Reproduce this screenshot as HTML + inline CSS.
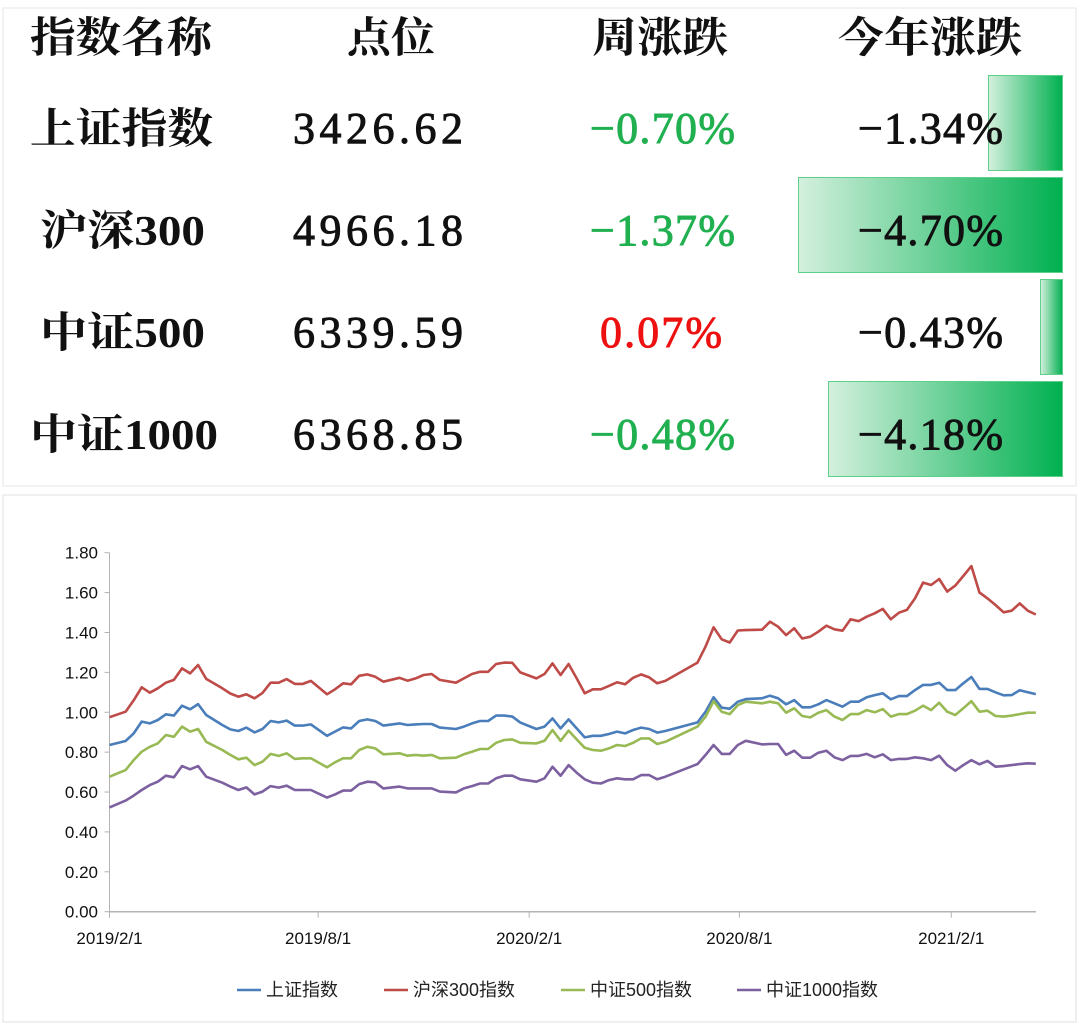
<!DOCTYPE html>
<html><head><meta charset="utf-8"><style>
html,body{margin:0;padding:0;background:#fff;}
body{width:1080px;height:1029px;position:relative;overflow:hidden;}
svg{position:absolute;left:0;top:0;}
.h{font-family:"Liberation Serif","Noto Serif CJK SC",serif;font-size:42px;font-weight:bold;fill:#111;}
.n{font-family:"Liberation Serif","Noto Serif CJK SC",serif;font-size:44px;font-weight:normal;fill:#111;stroke:#111;stroke-width:0.9px;}
.ax{font-family:"Liberation Sans","Noto Sans CJK SC",sans-serif;font-size:17px;fill:#111;}
.lg{font-family:"Liberation Sans","Noto Sans CJK SC",sans-serif;font-size:18px;fill:#222;}
</style></head><body>
<svg width="1080" height="1029">
<defs><linearGradient id="gbar" x1="0" x2="1" y1="0" y2="0"><stop offset="0" stop-color="#d4f0de"/><stop offset="1" stop-color="#00b050"/></linearGradient></defs>
<rect x="3" y="8" width="1073" height="478" fill="#fff" stroke="#e6e6e6"/>
<rect x="988.5" y="75.5" width="74" height="95" fill="url(#gbar)" stroke="#5fd08a"/>
<rect x="798.5" y="177.5" width="264" height="95" fill="url(#gbar)" stroke="#5fd08a"/>
<rect x="1040.5" y="279.5" width="22" height="95" fill="url(#gbar)" stroke="#5fd08a"/>
<rect x="828.5" y="381.5" width="234" height="95" fill="url(#gbar)" stroke="#5fd08a"/>
<g>
<text class="h" x="30" y="52" textLength="182" lengthAdjust="spacingAndGlyphs">指数名称</text>
<text class="h" x="347" y="52" textLength="88" lengthAdjust="spacingAndGlyphs">点位</text>
<text class="h" x="592" y="52" textLength="136" lengthAdjust="spacingAndGlyphs">周涨跌</text>
<text class="h" x="838" y="52" textLength="184" lengthAdjust="spacingAndGlyphs">今年涨跌</text>
</g>
<g>
<text class="h" x="30" y="143" textLength="183" lengthAdjust="spacingAndGlyphs">上证指数</text>
<text class="n" x="293" y="143" textLength="170" lengthAdjust="spacing">3426.62</text>
<text class="n" x="590" y="143" textLength="145" lengthAdjust="spacing" style="fill:#20b050;stroke:#20b050">−0.70%</text>
<text class="n" x="858" y="143" textLength="145" lengthAdjust="spacing">−1.34%</text>
</g>
<g>
<text class="h" x="40" y="245" textLength="165" lengthAdjust="spacingAndGlyphs">沪深300</text>
<text class="n" x="293" y="245" textLength="170" lengthAdjust="spacing">4966.18</text>
<text class="n" x="590" y="245" textLength="145" lengthAdjust="spacing" style="fill:#20b050;stroke:#20b050">−1.37%</text>
<text class="n" x="858" y="245" textLength="145" lengthAdjust="spacing">−4.70%</text>
</g>
<g>
<text class="h" x="40" y="347" textLength="165" lengthAdjust="spacingAndGlyphs">中证500</text>
<text class="n" x="293" y="347" textLength="170" lengthAdjust="spacing">6339.59</text>
<text class="n" x="600" y="347" textLength="122" lengthAdjust="spacing" style="fill:#ee1111;stroke:#ee1111">0.07%</text>
<text class="n" x="858" y="347" textLength="145" lengthAdjust="spacing">−0.43%</text>
</g>
<g>
<text class="h" x="30" y="449" textLength="188" lengthAdjust="spacingAndGlyphs">中证1000</text>
<text class="n" x="293" y="449" textLength="170" lengthAdjust="spacing">6368.85</text>
<text class="n" x="590" y="449" textLength="145" lengthAdjust="spacing" style="fill:#20b050;stroke:#20b050">−0.48%</text>
<text class="n" x="858" y="449" textLength="145" lengthAdjust="spacing">−4.18%</text>
</g>
<rect x="3" y="495" width="1073" height="527" fill="none" stroke="#e0e0e0"/>
<g id="chart"></g>
</svg>
<script>
const weeks=[0,2,3,4,5,6,7,8,9,10,11,12,14,15,16,17,18,19,20,21,22,23,24,25,27,28,29,30,31,32,33,34,36,37,38,39,40,41,43,44,45,46,47,48,49,50,51,53,54,55,56,57,58,59,60,61,62,63,64,65,66,67,68,69,73,74,75,76,77,78,79,81,82,83,84,85,86,87,88,89,90,91,92,93,94,95,96,97,98,99,100,101,102,103,104,105,106,107,108,109,110,111,112,113,114,115];
const shValues=[0.836,0.856,0.894,0.953,0.944,0.961,0.99,0.983,1.033,1.015,1.041,0.986,0.936,0.914,0.906,0.923,0.899,0.916,0.956,0.949,0.958,0.933,0.933,0.939,0.882,0.903,0.924,0.919,0.956,0.964,0.956,0.933,0.944,0.936,0.939,0.941,0.941,0.923,0.916,0.928,0.944,0.956,0.956,0.983,0.983,0.978,0.948,0.916,0.928,0.969,0.919,0.964,0.919,0.874,0.882,0.882,0.891,0.903,0.894,0.911,0.923,0.916,0.898,0.906,0.949,1.003,1.075,1.023,1.018,1.053,1.066,1.07,1.083,1.07,1.04,1.061,1.025,1.025,1.04,1.061,1.045,1.028,1.053,1.053,1.075,1.086,1.095,1.065,1.081,1.081,1.111,1.137,1.137,1.148,1.111,1.111,1.145,1.177,1.117,1.117,1.1,1.085,1.086,1.11,1.1,1.091];
const hs300Values=[0.975,1.003,1.06,1.125,1.098,1.12,1.148,1.162,1.22,1.195,1.237,1.167,1.12,1.094,1.078,1.09,1.07,1.097,1.148,1.148,1.166,1.142,1.142,1.157,1.09,1.115,1.145,1.14,1.183,1.19,1.178,1.153,1.173,1.158,1.17,1.187,1.192,1.162,1.148,1.17,1.192,1.203,1.203,1.242,1.249,1.248,1.2,1.17,1.192,1.245,1.187,1.242,1.17,1.095,1.115,1.115,1.132,1.15,1.14,1.173,1.19,1.175,1.145,1.157,1.249,1.33,1.426,1.366,1.35,1.41,1.412,1.414,1.454,1.429,1.387,1.421,1.37,1.379,1.404,1.434,1.416,1.409,1.466,1.457,1.479,1.496,1.518,1.466,1.499,1.513,1.571,1.65,1.638,1.668,1.605,1.635,1.683,1.733,1.601,1.571,1.538,1.501,1.509,1.546,1.509,1.49];
const zz500Values=[0.677,0.71,0.76,0.802,0.827,0.844,0.886,0.877,0.928,0.903,0.916,0.852,0.811,0.786,0.764,0.772,0.735,0.752,0.791,0.781,0.794,0.766,0.769,0.769,0.724,0.749,0.769,0.769,0.811,0.827,0.819,0.789,0.794,0.782,0.786,0.782,0.786,0.769,0.772,0.789,0.802,0.816,0.816,0.847,0.861,0.864,0.847,0.844,0.857,0.911,0.857,0.908,0.864,0.822,0.811,0.807,0.819,0.836,0.831,0.847,0.869,0.869,0.841,0.852,0.928,0.978,1.056,1.003,0.991,1.036,1.053,1.045,1.053,1.045,0.998,1.02,0.981,0.974,0.998,1.011,0.978,0.961,0.991,0.991,1.011,1.0,1.016,0.978,0.991,0.991,1.008,1.033,1.011,1.048,1.003,0.986,1.02,1.056,1.003,1.008,0.981,0.978,0.983,0.991,0.998,0.998];
const zz1000Values=[0.523,0.557,0.582,0.61,0.635,0.652,0.682,0.674,0.73,0.714,0.73,0.677,0.647,0.627,0.61,0.623,0.588,0.602,0.63,0.622,0.632,0.61,0.61,0.61,0.572,0.588,0.607,0.607,0.64,0.652,0.649,0.618,0.627,0.618,0.618,0.618,0.618,0.602,0.598,0.618,0.63,0.643,0.643,0.669,0.682,0.682,0.664,0.652,0.669,0.727,0.682,0.735,0.697,0.664,0.647,0.643,0.66,0.669,0.664,0.664,0.685,0.685,0.664,0.677,0.74,0.786,0.836,0.791,0.791,0.836,0.857,0.839,0.841,0.841,0.786,0.807,0.772,0.772,0.797,0.807,0.774,0.76,0.781,0.781,0.791,0.774,0.789,0.76,0.766,0.766,0.774,0.769,0.76,0.782,0.735,0.707,0.735,0.76,0.739,0.756,0.727,0.73,0.735,0.74,0.744,0.742];
const yTicks=[0,0.2,0.4,0.6,0.8,1.0,1.2,1.4,1.6,1.8];
const xTickWeeks=[0,25.9,52.1,78.2,104.5];
const xTickLabels=["2019/2/1","2019/8/1","2020/2/1","2020/8/1","2021/2/1"];
const seriesNames=["上证指数","沪深300指数","中证500指数","中证1000指数"];
const seriesColors=["#4a7ebb","#be4b48","#98b954","#7d60a0"];

const NS="http://www.w3.org/2000/svg";
const g=document.getElementById('chart');
const X0=109.5,XW=8.055,Y0=911.7,YS=(911.7-552.7)/1.8;
const xs=w=>X0+w*XW, ys=v=>Y0-v*YS;
function mk(t,a){const e=document.createElementNS(NS,t);for(const k in a)e.setAttribute(k,a[k]);g.appendChild(e);return e;}
let yAxis=mk('line',{x1:X0,y1:ys(1.8),x2:X0,y2:Y0,stroke:'#b3b3b3','stroke-width':1});


let xAxis=mk('line',{x1:X0,y1:Y0,x2:1036,y2:Y0,stroke:'#b3b3b3','stroke-width':1.5});


yTicks.forEach(v=>{
  const t=mk('line',{x1:X0-5,y1:ys(v),x2:X0,y2:ys(v),stroke:'#b3b3b3'});
  
  
  const l=mk('text',{x:98,y:ys(v)+6,'text-anchor':'end',class:'ax'});
  l.textContent=v.toFixed(2);
  
  
});
xTickWeeks.forEach((w,i)=>{
  const t=mk('line',{x1:xs(w),y1:Y0,x2:xs(w),y2:Y0+6,stroke:'#b3b3b3'});
  
  
  const l=mk('text',{x:xs(w),y:944,'text-anchor':'middle',class:'ax'});
  l.textContent=xTickLabels[i];
  
  
});
[shValues,hs300Values,zz500Values,zz1000Values].forEach((vals,si)=>{
  const d=vals.map((v,i)=>(i?'L':'M')+xs(weeks[i]).toFixed(1)+' '+ys(v).toFixed(1)).join(' ');
  const p=mk('path',{d:d,fill:'none',stroke:seriesColors[si],'stroke-width':2.6,'stroke-linejoin':'round'});
  
  
});
const legX=[237,384,561,737];
seriesNames.forEach((n,i)=>{
  const l=mk('line',{x1:legX[i],y1:990,x2:legX[i]+24,y2:990,stroke:seriesColors[i],'stroke-width':2.6});
  
  
  const t=mk('text',{x:legX[i]+29,y:996,class:'lg'});
  t.textContent=n;
  
  
});
</script>
</body></html>
